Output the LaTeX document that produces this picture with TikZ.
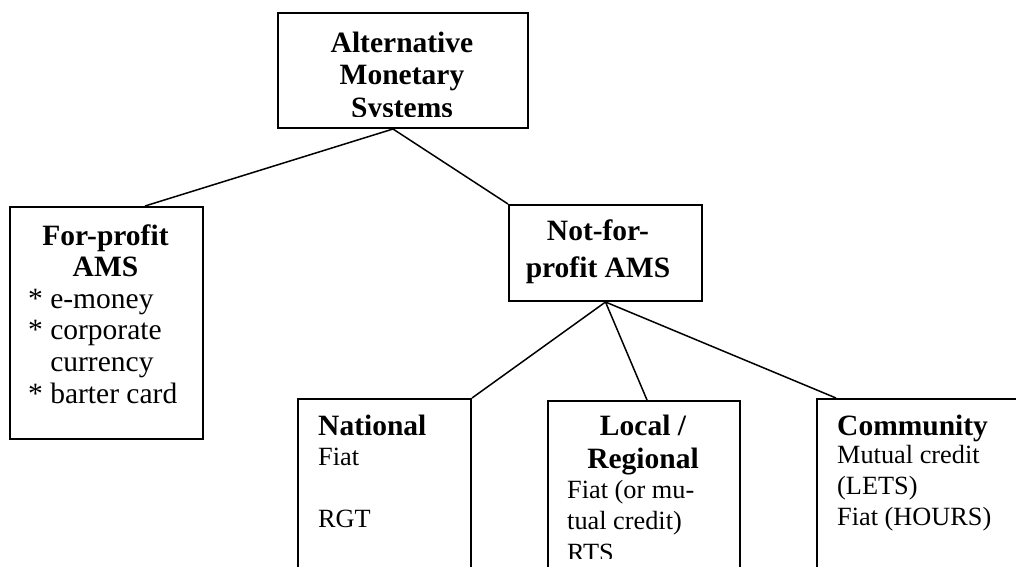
\documentclass[tikz,border=0pt]{standalone}
\usepackage{fontspec}
\setmainfont{Liberation Serif}
\usetikzlibrary{calc}
\begin{document}
\begin{tikzpicture}[x=1pt,y=-1pt,
  box/.style={draw, line width=2pt, inner sep=0pt, anchor=north west},
  link/.style={line width=1.5pt},
  txt/.style={inner sep=0pt, anchor=base},
  txtl/.style={inner sep=0pt, anchor=base west},
]
\useasboundingbox (0,0) rectangle (1016,566);
\clip (0,0) rectangle (1016,566);

% boxes
\node[box, minimum width=250pt, minimum height=115pt] (ams) at (277,12) {};
\node[box, minimum width=193pt, minimum height=232pt] (fp) at (9,206) {};
\node[box, minimum width=193pt, minimum height=96pt] (nfp) at (508,204) {};
\node[box, minimum width=173pt, minimum height=220pt] (nat) at (297,398) {};
\node[box, minimum width=192pt, minimum height=220pt] (loc) at (547,400) {};
\node[box, minimum width=300pt, minimum height=220pt] (com) at (816,398) {};

% texts
\begin{scope}
\clip (277,12) rectangle (527,116);
\node[txt, font=\fontsize{29.5}{32.5}\selectfont\bfseries] (amst) at (402,52)
  {\begin{tabular}[t]{@{}c@{}}Alternative\\Monetary\\Systems\end{tabular}};
\end{scope}

\node[txt, font=\fontsize{29.5}{31.6}\selectfont\bfseries] (fpt) at (105.5,245)
  {\begin{tabular}[t]{@{}c@{}}For-profit\\AMS\end{tabular}};
\node[txtl, font=\fontsize{29.5}{31.6}\selectfont] (fpl) at (28,308.2)
  {\begin{tabular}[t]{@{}l@{}}{*} e-money\\{*} corporate\\\phantom{*}\ currency\\{*} barter card\end{tabular}};

\node[txt, font=\fontsize{29.5}{37}\selectfont\bfseries] (nfpt) at (598,240)
  {\begin{tabular}[t]{@{}c@{}}Not-for-\\profit AMS\end{tabular}};

\node[txtl, font=\fontsize{29.5}{31}\selectfont\bfseries] (natt) at (318,435) {National};
\node[txtl, font=\fontsize{26.3}{31}\selectfont] (natb) at (318,465)
  {\begin{tabular}[t]{@{}l@{}}Fiat\\\\RGT\end{tabular}};

\node[txt, font=\fontsize{29.5}{33}\selectfont\bfseries] (loct) at (643,435)
  {\begin{tabular}[t]{@{}c@{}}Local /\\Regional\end{tabular}};
\begin{scope}
\clip (547,400) rectangle (739,558);
\node[txtl, font=\fontsize{26.3}{31.5}\selectfont] (locb) at (567,498)
  {\begin{tabular}[t]{@{}l@{}}Fiat (or mu-\\tual credit)\\RTS\end{tabular}};
\end{scope}

\node[txtl, font=\fontsize{29.5}{31}\selectfont\bfseries] (comt) at (837,435) {Community};
\node[txtl, font=\fontsize{26.3}{31}\selectfont] (comb) at (837,463.5)
  {\begin{tabular}[t]{@{}l@{}}Mutual credit\\(LETS)\\Fiat (HOURS)\end{tabular}};

% connectors
\coordinate (amsout) at ($(ams.south west)+(116,0)$);
\coordinate (fpin) at ($(fp.north west)+(136,0)$);
\coordinate (locin) at ($(loc.north west)+(100,0)$);
\coordinate (comin) at ($(com.north west)+(20,0)$);
\draw[link] (amsout) -- (fpin);
\draw[link] (amsout) -- (nfp.north west);
\draw[link] (nfp.south) -- (nat.north east);
\draw[link] (nfp.south) -- (locin);
\draw[link] (nfp.south) -- (comin);
\end{tikzpicture}
\end{document}
